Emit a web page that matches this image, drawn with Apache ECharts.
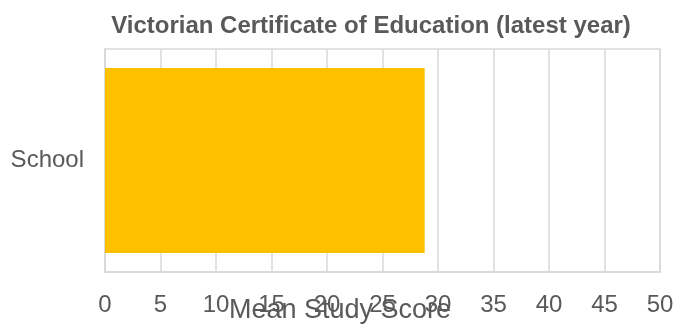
<!DOCTYPE html>
<html>
<head>
<meta charset="utf-8">
<script src="https://cdn.jsdelivr.net/npm/echarts@6/dist/echarts.min.js"></script>
<style>
  html, body { margin: 0; padding: 0; background: #fff; }
  #chart { width: 689px; height: 330px; }
</style>
</head>
<body>
<div id="chart"></div>
<script>
// Chart data
const categories = ['School'];
const meanStudyScore = [28.8];
const xTicks = { min: 0, max: 50, interval: 5 };

const chart = echarts.init(document.getElementById('chart'));
const textColor = '#595959';
const lineColor = '#d9d9d9';
const font = 'Liberation Sans, Arial, sans-serif';

chart.setOption({
  animation: false,
  title: {
    text: 'Victorian Certificate of Education (latest year)',
    left: 366,
    textAlign: 'center',
    top: 9,
    textStyle: { fontFamily: font, fontSize: 24, fontWeight: 'bold', color: textColor }
  },
  grid: {
    left: 105, right: 29, top: 49, bottom: 58,
    containLabel: false,
    outerBoundsMode: 'none',
    show: true, borderColor: lineColor, borderWidth: 1.5
  },
  xAxis: {
    type: 'value',
    min: xTicks.min, max: xTicks.max, interval: xTicks.interval,
    name: 'Mean Study Score',
    nameLocation: 'middle',
    nameGap: 25,
    nameMoveOverlap: false,
    nameTextStyle: { fontFamily: font, fontSize: 27, color: textColor, padding: [0, 85, 0, 0] },
    axisLine: { show: true, lineStyle: { color: lineColor, width: 1.5 } },
    axisTick: { show: false },
    splitLine: { show: true, lineStyle: { color: lineColor, width: 1.5 } },
    axisLabel: { margin: 21, fontFamily: font, fontSize: 24, color: textColor }
  },
  yAxis: {
    type: 'category',
    data: categories,
    axisLine: { show: true, lineStyle: { color: lineColor, width: 1.5 } },
    axisTick: { show: false },
    axisLabel: { margin: 21, fontFamily: font, fontSize: 24, color: textColor }
  },
  series: [{
    type: 'bar',
    data: meanStudyScore,
    barWidth: '83%',
    itemStyle: { color: '#FFC000' }
  }]
});
</script>
</body>
</html>
